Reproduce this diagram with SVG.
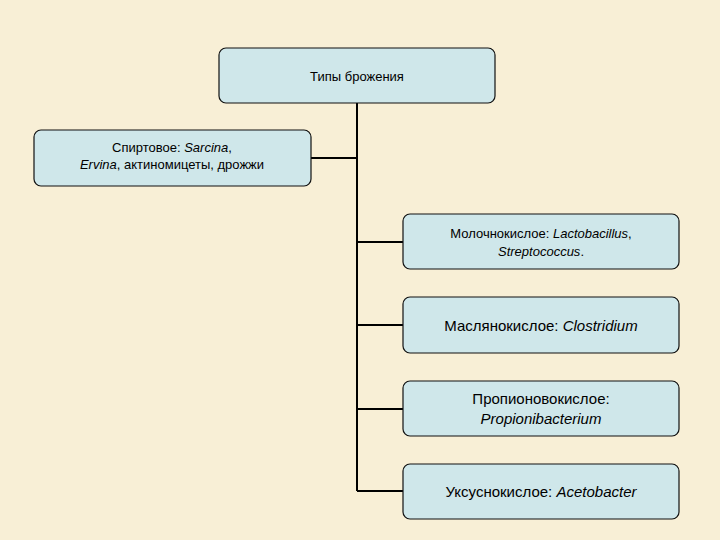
<svg xmlns="http://www.w3.org/2000/svg" width="720" height="540" viewBox="0 0 720 540">
<style>
.box{fill:#cfe7ea;stroke:#111;stroke-width:1.2}
.t{font-family:"Liberation Sans",Arial,sans-serif;fill:#000;text-anchor:middle}
.s{font-size:13px}
.b{font-size:15px}
.c{stroke:#000;stroke-width:2;fill:none}
</style>
<rect width="720" height="540" fill="#f8efd6"/>
<g id="connectors">
<path class="c" d="M357 103V491M311 158H357M357 242H403M357 325H403M357 409H403M357 491H403"/>
</g>
<g id="n0"><rect class="box" x="219" y="48" width="276" height="55" rx="7"/><text class="t s" x="357" y="81">Типы брожения</text></g>
<g id="n1"><rect class="box" x="34" y="130" width="277" height="56" rx="7"/><text class="t s" x="172" y="152">Спиртовое: <tspan font-style="italic">Sarcina</tspan>,</text><text class="t s" x="172" y="169"><tspan font-style="italic">Ervina</tspan>, актиномицеты, дрожжи</text></g>
<g id="n2"><rect class="box" x="403" y="214" width="276" height="55" rx="7"/><text class="t s" x="541" y="238">Молочнокислое: <tspan font-style="italic">Lactobacillus</tspan>,</text><text class="t s" x="541" y="256"><tspan font-style="italic">Streptococcus</tspan>.</text></g>
<g id="n3"><rect class="box" x="403" y="297" width="276" height="56" rx="7"/><text class="t b" x="541" y="331">Маслянокислое: <tspan font-style="italic">Clostridium</tspan></text></g>
<g id="n4"><rect class="box" x="403" y="381" width="276" height="55" rx="7"/><text class="t b" x="541" y="404">Пропионовокислое:</text><text class="t b" x="541" y="424" font-style="italic">Propionibacterium</text></g>
<g id="n5"><rect class="box" x="403" y="464" width="276" height="55" rx="7"/><text class="t b" x="541" y="497">Уксуснокислое: <tspan font-style="italic">Acetobacter</tspan></text></g>
</svg>
